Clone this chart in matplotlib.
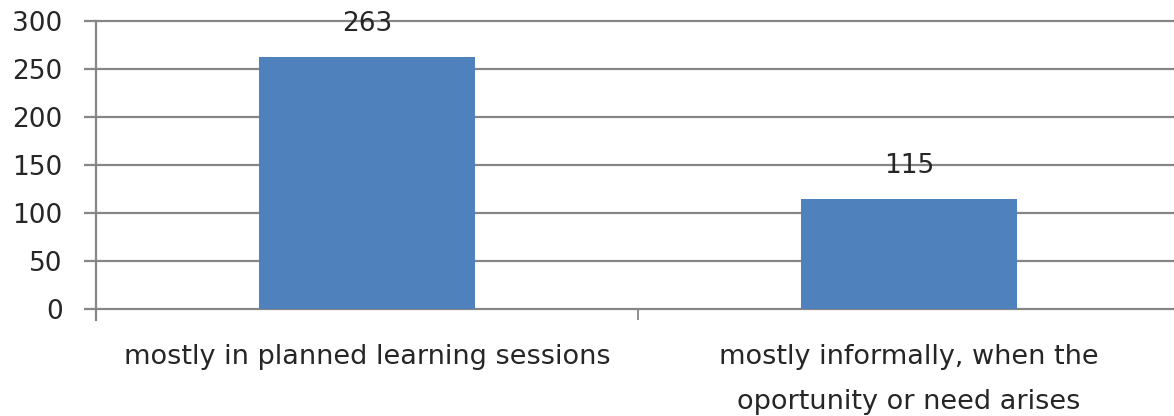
import matplotlib.pyplot as plt

categories = ["mostly in planned learning sessions",
              "mostly informally, when the\noportunity or need arises"]
values = [263, 115]
yticks = [0, 50, 100, 150, 200, 250, 300]

W, H = 1174, 416
cat_px = 542
fig = plt.figure(figsize=(W / 100, H / 100), dpi=100)
ax = fig.add_axes([96 / W, (H - 309) / H, (W - 96) / W, 288 / H])

grid_col = "#868686"
bar_col = "#4F81BD"
txt_col = "#262626"
fs = 19

x = list(range(len(categories)))
ax.bar(x, values, width=0.40, color=bar_col, zorder=3)
for xi, v in zip(x, values):
    ax.annotate(str(v), (xi, v), xytext=(0, 14), textcoords="offset points",
                ha="center", va="bottom", fontsize=fs, color=txt_col)

ax.set_ylim(0, 300)
ax.set_xlim(-0.5, -0.5 + (W - 96) / cat_px)
ax.set_yticks(yticks)
ax.set_yticklabels([str(t) for t in yticks], fontsize=fs, color=txt_col)
for t in yticks:
    ax.axhline(t, color=grid_col, lw=1.6, zorder=1, clip_on=False)

# category boundaries
ax.set_xticks([-0.5, 0.5])
ax.set_xticklabels([])
ax.tick_params(axis="x", direction="out", length=8, width=1.3, color=grid_col)
ax.tick_params(axis="y", direction="out", length=9, width=1.6, color=grid_col, pad=15)

for xi, c in zip(x, categories):
    ax.text(xi, -36, c, ha="center", va="top", fontsize=19.5, color=txt_col,
            linespacing=1.95)

for s in ["top", "right", "bottom"]:
    ax.spines[s].set_visible(False)
ax.spines["left"].set_color(grid_col)
ax.spines["left"].set_linewidth(1.6)
ax.spines["left"].set_bounds(-11 / 0.96, 300)

fig.savefig("out.png", dpi=100)
